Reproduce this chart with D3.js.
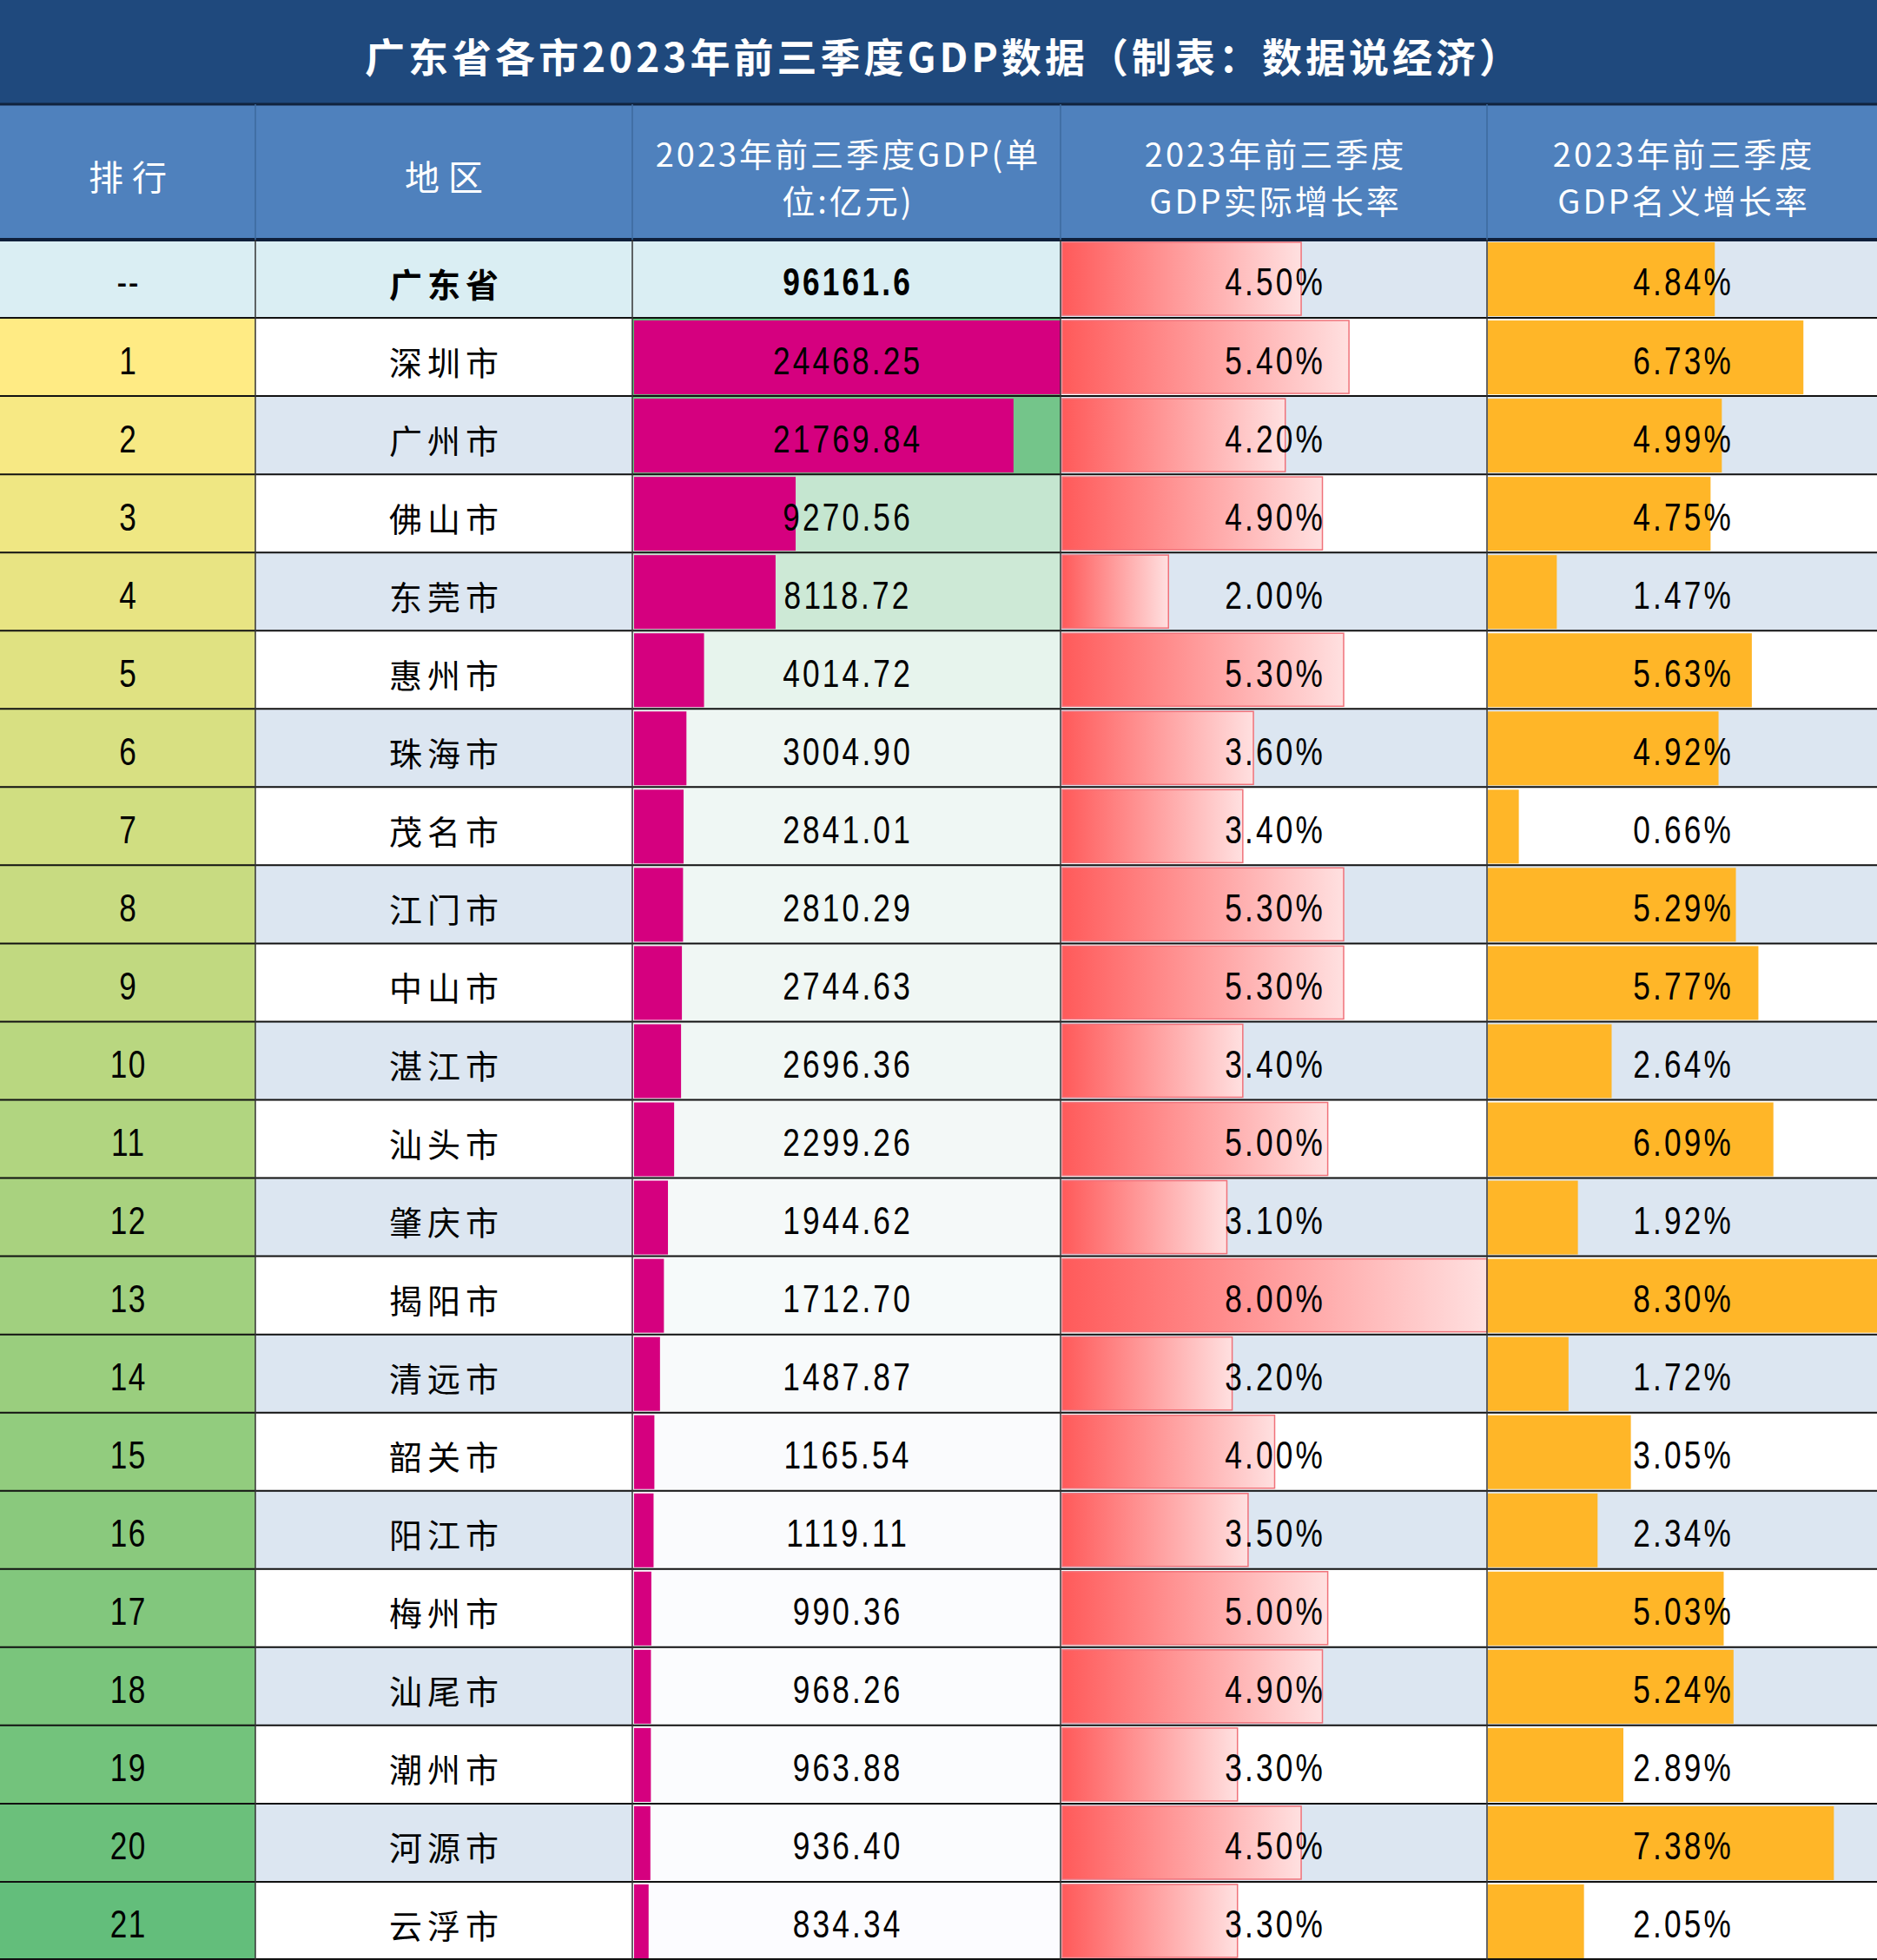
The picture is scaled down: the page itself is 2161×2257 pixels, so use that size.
<!DOCTYPE html>
<html>
<head>
<meta charset="utf-8">
<script src="https://cdn.jsdelivr.net/npm/d3@7/dist/d3.min.js"></script>
<style>
  body { margin: 0; background: #fff; }
  svg { display: block; }
</style>
</head>
<body>
<div id="chart"></div>
<script>
var title = "广东省各市2023年前三季度GDP数据（制表：数据说经济）";
var headers = [
  ["排行"],
  ["地区"],
  ["2023年前三季度GDP(单", "位:亿元)"],
  ["2023年前三季度", "GDP实际增长率"],
  ["2023年前三季度", "GDP名义增长率"]
];

var province = "广东省";
var provinceGdp = 96161.6;
var provinceReal = 4.50;
var provinceNominal = 4.84;

var cities = ["深圳市", "广州市", "佛山市", "东莞市", "惠州市", "珠海市", "茂名市",
  "江门市", "中山市", "湛江市", "汕头市", "肇庆市", "揭阳市", "清远市", "韶关市",
  "阳江市", "梅州市", "汕尾市", "潮州市", "河源市", "云浮市"];
var gdp = [24468.25, 21769.84, 9270.56, 8118.72, 4014.72, 3004.90, 2841.01,
  2810.29, 2744.63, 2696.36, 2299.26, 1944.62, 1712.70, 1487.87, 1165.54,
  1119.11, 990.36, 968.26, 963.88, 936.40, 834.34];
var realGrowth = [5.40, 4.20, 4.90, 2.00, 5.30, 3.60, 3.40, 5.30, 5.30, 3.40, 5.00,
  3.10, 8.00, 3.20, 4.00, 3.50, 5.00, 4.90, 3.30, 4.50, 3.30];
var nominalGrowth = [6.73, 4.99, 4.75, 1.47, 5.63, 4.92, 0.66, 5.29, 5.77, 2.64, 6.09,
  1.92, 8.30, 1.72, 3.05, 2.34, 5.03, 5.24, 2.89, 7.38, 2.05];

var W = 2161, H = 2257;
var titleH = 120, headTop = 120, headBottom = 276;
var colX = [0, 294, 728, 1221, 1712, 2161];

var rows = [{rank: "--", name: province, gdp: provinceGdp, real: provinceReal, nom: provinceNominal, total: true}];
cities.forEach(function(c, i) {
  rows.push({rank: String(i + 1), name: c, gdp: gdp[i], real: realGrowth[i], nom: nominalGrowth[i], total: false});
});

var numFont = "'Liberation Sans', Arial, sans-serif";
var cjkFont = "'Noto Sans CJK SC', 'Noto Sans', sans-serif";

var svg = d3.select("#chart").append("svg")
  .attr("width", W)
  .attr("height", H);

var defs = svg.append("defs");
var grad = defs.append("linearGradient").attr("id", "redbar");
grad.append("stop").attr("offset", "0%").attr("stop-color", "#ff5a5a");
grad.append("stop").attr("offset", "100%").attr("stop-color", "#ffe0e0");

var y = d3.scaleBand()
  .domain(d3.range(rows.length))
  .range([headBottom, H]);

var gdpW = colX[3] - colX[2] - 2;
var xGdp = d3.scaleLinear().domain([0, d3.max(gdp)]).range([0, gdpW]);
var xReal = d3.scaleLinear().domain([0, d3.max(realGrowth)]).range([0, colX[4] - colX[3] - 2]);
var xNom = d3.scaleLinear().domain([0, d3.max(nominalGrowth)]).range([0, colX[5] - colX[4] - 1]);

var gdpColor = d3.scaleLinear()
  .domain([d3.min(gdp), d3.max(gdp)])
  .range(["#fcfcff", "#63be7b"]);
var rankColor = d3.scaleLinear()
  .domain([1, cities.length])
  .range(["#ffeb84", "#63be7b"]);

// title band
svg.append("rect").attr("x", 0).attr("y", 0).attr("width", W).attr("height", titleH).attr("fill", "#1f497d");
svg.append("text")
  .attr("x", W / 2 + 6)
  .attr("y", titleH / 2 + 3)
  .attr("text-anchor", "middle")
  .attr("dominant-baseline", "central")
  .style("font-family", cjkFont)
  .style("font-weight", "bold")
  .style("font-size", "46px")
  .style("letter-spacing", "4px")
  .attr("fill", "#fff")
  .text(title);

// header band
svg.append("rect").attr("x", 0).attr("y", headTop).attr("width", W).attr("height", headBottom - headTop).attr("fill", "#4f81bd");
headers.forEach(function(lines, i) {
  var cx = (colX[i] + colX[i + 1]) / 2;
  var cy = (headTop + headBottom) / 2;
  var t = svg.append("text")
    .attr("text-anchor", "middle")
    .style("font-family", cjkFont)
    .style("font-size", lines.length == 1 ? "40px" : "38px")
    .style("letter-spacing", lines.length == 1 ? "10px" : "3px")
    .attr("fill", "#fff");
  lines.forEach(function(l, j) {
    t.append("tspan")
      .attr("x", cx + (lines.length == 1 ? 5 : 2))
      .attr("y", cy + 4 + (j - (lines.length - 1) / 2) * 54)
      .attr("dominant-baseline", "central")
      .text(l);
  });
});

// body cell backgrounds
var row = svg.append("g").attr("class", "rows")
  .selectAll("g")
  .data(rows)
  .enter().append("g")
  .attr("transform", function(d, i) { return "translate(0," + y(i) + ")"; });

var stripe = function(i) { return i % 2 == 0 ? "#dce6f1" : "#ffffff"; };

row.append("rect")
  .attr("x", colX[0]).attr("width", colX[1] - colX[0]).attr("height", y.bandwidth())
  .attr("fill", function(d) { return d.total ? "#daeef3" : rankColor(+d.rank); });
row.append("rect")
  .attr("x", colX[1]).attr("width", colX[2] - colX[1]).attr("height", y.bandwidth())
  .attr("fill", function(d, i) { return d.total ? "#daeef3" : stripe(i); });
row.append("rect")
  .attr("x", colX[2]).attr("width", colX[3] - colX[2]).attr("height", y.bandwidth())
  .attr("fill", function(d) { return d.total ? "#daeef3" : gdpColor(d.gdp); });
row.append("rect")
  .attr("x", colX[3]).attr("width", colX[4] - colX[3]).attr("height", y.bandwidth())
  .attr("fill", function(d, i) { return stripe(i); });
row.append("rect")
  .attr("x", colX[4]).attr("width", colX[5] - colX[4]).attr("height", y.bandwidth())
  .attr("fill", function(d, i) { return stripe(i); });

// data bars
var bar = row.filter(function(d) { return !d.total; });
bar.append("rect")
  .attr("x", colX[2] + 2)
  .attr("y", 3)
  .attr("width", function(d) { return xGdp(d.gdp); })
  .attr("height", y.bandwidth() - 5)
  .attr("fill", "#d5007f");

row.append("rect")
  .attr("x", colX[3] + 2)
  .attr("y", 3)
  .attr("width", function(d) { return xReal(d.real); })
  .attr("height", y.bandwidth() - 6)
  .attr("fill", "url(#redbar)")
  .attr("stroke", "#f0727a")
  .attr("stroke-width", 1.5);

row.append("rect")
  .attr("x", colX[4] + 1)
  .attr("y", 3)
  .attr("width", function(d) { return xNom(d.nom); })
  .attr("height", y.bandwidth() - 5)
  .attr("fill", "#ffb628");

// texts; numbers are squeezed horizontally to look like a narrow font
function cellText(sel, col, fn, font, size, ls, sx) {
  sel.append("g")
    .attr("transform", "translate(" + ((colX[col] + colX[col + 1]) / 2) + "," + (y.bandwidth() / 2 + 4) + ") scale(" + sx + ",1)")
    .append("text")
    .attr("x", ls / 2)
    .attr("text-anchor", "middle")
    .attr("dominant-baseline", "central")
    .style("font-family", font)
    .style("font-size", size + "px")
    .style("letter-spacing", ls + "px")
    .style("font-weight", function(d) { return d.total && (col == 1 || col == 2) ? "bold" : "normal"; })
    .attr("fill", "#000")
    .text(fn);
}

cellText(row, 0, function(d) { return d.rank; }, numFont, 44, 2, 0.8);
cellText(row, 1, function(d) { return d.name; }, cjkFont, 38, 6, 1);
cellText(row, 2, function(d) { return d.total ? d3.format(".1f")(d.gdp) : d3.format(".2f")(d.gdp); }, numFont, 44, 4, 0.8);
cellText(row, 3, function(d) { return d3.format(".2f")(d.real) + "%"; }, numFont, 44, 4, 0.8);
cellText(row, 4, function(d) { return d3.format(".2f")(d.nom) + "%"; }, numFont, 44, 4, 0.8);

// grid lines
var lines = svg.append("g").attr("class", "grid");
lines.append("line")
  .attr("x1", 0).attr("x2", W).attr("y1", headTop).attr("y2", headTop)
  .attr("stroke", "#10233d").attr("stroke-width", 3);
lines.append("line")
  .attr("x1", 0).attr("x2", W).attr("y1", headBottom).attr("y2", headBottom)
  .attr("stroke", "#0f1f3a").attr("stroke-width", 4);
lines.selectAll(".hl")
  .data(d3.range(1, rows.length + 1))
  .enter().append("line")
  .attr("class", "hl")
  .attr("x1", 0).attr("x2", W)
  .attr("y1", function(i) { return i == rows.length ? H - 1 : y(i); })
  .attr("y2", function(i) { return i == rows.length ? H - 1 : y(i); })
  .attr("stroke", "#111").attr("stroke-width", 2);
lines.selectAll(".vh")
  .data(colX.slice(1, 5))
  .enter().append("line")
  .attr("class", "vh")
  .attr("x1", function(d) { return d; }).attr("x2", function(d) { return d; })
  .attr("y1", headTop).attr("y2", headBottom)
  .attr("stroke", "#3d6a9e").attr("stroke-width", 1.5);
lines.selectAll(".vb")
  .data(colX.slice(1, 5))
  .enter().append("line")
  .attr("class", "vb")
  .attr("x1", function(d) { return d; }).attr("x2", function(d) { return d; })
  .attr("y1", headBottom).attr("y2", H)
  .attr("stroke", "#333").attr("stroke-width", 1.5);
</script>
</body>
</html>
